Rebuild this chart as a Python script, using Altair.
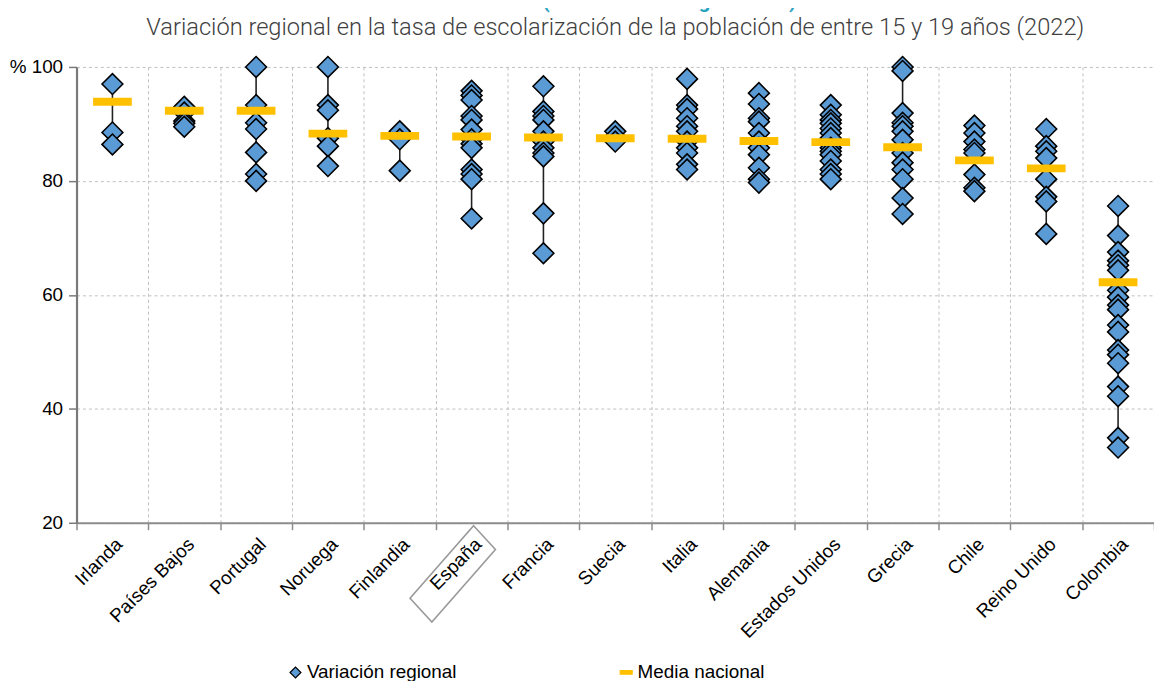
import altair as alt
import pandas as pd

countries = ["Irlanda", "Países Bajos", "Portugal", "Noruega", "Finlandia", "España",
             "Francia", "Suecia", "Italia", "Alemania", "Estados Unidos", "Grecia",
             "Chile", "Reino Unido", "Colombia"]

regional = {
    "Irlanda": [97.0, 88.5, 86.4],
    "Países Bajos": [93.0, 92.0, 90.5, 90.1, 89.5],
    "Portugal": [100.0, 93.3, 90.2, 89.1, 85.0, 81.2, 80.0],
    "Noruega": [100.0, 93.3, 92.4, 87.5, 86.1, 82.6],
    "Finlandia": [88.7, 87.3, 81.8],
    "España": [95.8, 95.0, 94.2, 91.4, 90.7, 89.0, 87.3, 86.5, 85.8, 82.0, 81.2, 80.3, 73.4],
    "Francia": [96.6, 92.2, 91.4, 90.7, 88.7, 86.9, 85.8, 84.9, 84.3, 74.3, 67.3],
    "Suecia": [88.7, 87.8, 86.9],
    "Italia": [97.9, 93.3, 92.6, 91.0, 89.6, 88.7, 86.9, 85.8, 84.9, 82.9, 82.0],
    "Alemania": [95.4, 93.5, 91.0, 90.4, 88.4, 86.9, 85.8, 84.6, 82.3, 80.3, 79.7],
    "Estados Unidos": [93.3, 91.6, 90.7, 90.1, 89.2, 88.4, 87.5, 85.8, 85.2, 84.6, 83.5, 82.0, 81.2, 80.3],
    "Grecia": [100.0, 99.3, 91.9, 90.2, 89.6, 88.7, 87.2, 84.9, 83.2, 82.0, 80.3, 77.0, 74.2],
    "Chile": [89.7, 88.4, 86.9, 85.5, 84.9, 81.1, 78.8, 78.2],
    "Reino Unido": [89.1, 86.1, 85.2, 84.0, 80.3, 77.2, 76.4, 70.7],
    "Colombia": [75.6, 70.4, 67.5, 66.0, 65.2, 64.3, 60.8, 59.6, 58.2, 57.4, 54.7, 53.5,
                 50.3, 49.5, 48.0, 43.9, 42.2, 34.9, 33.2],
}

national_mean = [93.9, 92.3, 92.3, 88.3, 87.9, 87.8, 87.6, 87.5, 87.4, 87.0, 86.8, 85.9, 83.6, 82.2, 62.2]

y_ticks = [20, 40, 60, 80, 100]
series = ["Variación regional", "Media nacional"]
highlight = ["España"]

reg_df = pd.DataFrame([{"pais": c, "valor": v, "serie": series[0]}
                       for c in countries for v in regional[c]])
mean_df = pd.DataFrame({"pais": countries, "valor": national_mean, "serie": series[1]})
hl_df = pd.DataFrame({"pais": highlight})

BLUE = "#5B9BD5"
ORANGE = "#FFC000"
W, H = 1085, 459

x_enc = alt.X("pais:N", sort=countries, title=None,
              scale=alt.Scale(paddingInner=0, paddingOuter=0))
y_scale = alt.Scale(domain=[20, 100], nice=False, zero=False)
y_axis = alt.Axis(values=y_ticks, labelExpr="datum.value == 100 ? '% 100' : datum.label")

color_enc = alt.Color("serie:N", title=None,
                      scale=alt.Scale(domain=series, range=[BLUE, ORANGE]),
                      legend=alt.Legend(orient="none", direction="horizontal",
                                        legendX=211, legendY=600,
                                        columnPadding=161, symbolSize=120,
                                        symbolStrokeWidth=1.2, labelFontSize=19,
                                        labelFont="Liberation Sans", labelColor="#000",
                                        labelOffset=2))
shape_enc = alt.Shape("serie:N", title=None,
                      scale=alt.Scale(domain=series,
                                      range=["diamond", "M-1.1,-0.33L1.1,-0.33L1.1,0.33L-1.1,0.33Z"]))
stroke_enc = alt.Stroke("serie:N", title=None,
                        scale=alt.Scale(domain=series, range=["#000000", ORANGE]))

rules = alt.Chart(reg_df).mark_rule(color="#222", strokeWidth=1.6).encode(
    x=x_enc,
    y=alt.Y("min(valor):Q", scale=y_scale, axis=y_axis, title=None),
    y2="max(valor):Q",
)

points = alt.Chart(reg_df).mark_point(filled=True, opacity=1, size=440,
                                      strokeWidth=1.6, strokeOpacity=1).encode(
    x=x_enc,
    y=alt.Y("valor:Q", scale=y_scale, axis=y_axis, title=None),
    color=color_enc,
    shape=shape_enc,
    stroke=stroke_enc,
)

means = alt.Chart(mean_df).mark_tick(size=39, thickness=8, opacity=1).encode(
    x=x_enc,
    y=alt.Y("valor:Q", scale=y_scale, axis=y_axis, title=None),
    color=color_enc,
)

box = alt.Chart(hl_df).mark_point(shape="M2,3L24,27L-40,100L-62,76Z", size=4,
                                  filled=False, color="#9a9a9a", strokeWidth=1.6,
                                  opacity=1).encode(
    x=x_enc,
    y=alt.value(H),
)

chart = alt.layer(rules, points, means, box).properties(
    width=W, height=H,
    title=alt.TitleParams(
        text="Gráfico 4.5 (extracto de la Figura B3.2)",
        subtitle="Variación regional en la tasa de escolarización de la población de entre 15 y 19 años (2022)",
        anchor="middle", offset=14, font="Roboto", fontSize=21, fontWeight="bold",
        color="#2BA3C0", subtitleFont="Roboto", subtitleFontSize=23.8,
        subtitleFontWeight=300, subtitleColor="#404040", subtitlePadding=4,
    ),
    autosize=alt.AutoSizeParams(type="none"),
    padding={"left": 69, "top": 57, "right": 0, "bottom": 157},
).configure_view(strokeWidth=0).configure_axisX(
    labelAngle=-45, labelFontSize=19, labelFont="Liberation Sans", labelColor="#000",
    domainColor="#8c8c8c", domainWidth=2, tickColor="#8c8c8c", tickSize=7, tickWidth=1.5,
    tickBand="extent", grid=True, gridDash=[3, 3], gridColor="#c0c0c0", labelPadding=5,
).configure_axisY(
    labelFontSize=19, labelFont="Liberation Sans", labelColor="#000",
    domainColor="#7a7a7a", domainWidth=2.2, tickColor="#7a7a7a", tickSize=8, tickWidth=1.5,
    grid=True, gridDash=[3, 3], gridColor="#c0c0c0", labelPadding=6,
)

chart.save("out.html", embed_options={"renderer": "svg", "actions": False})
